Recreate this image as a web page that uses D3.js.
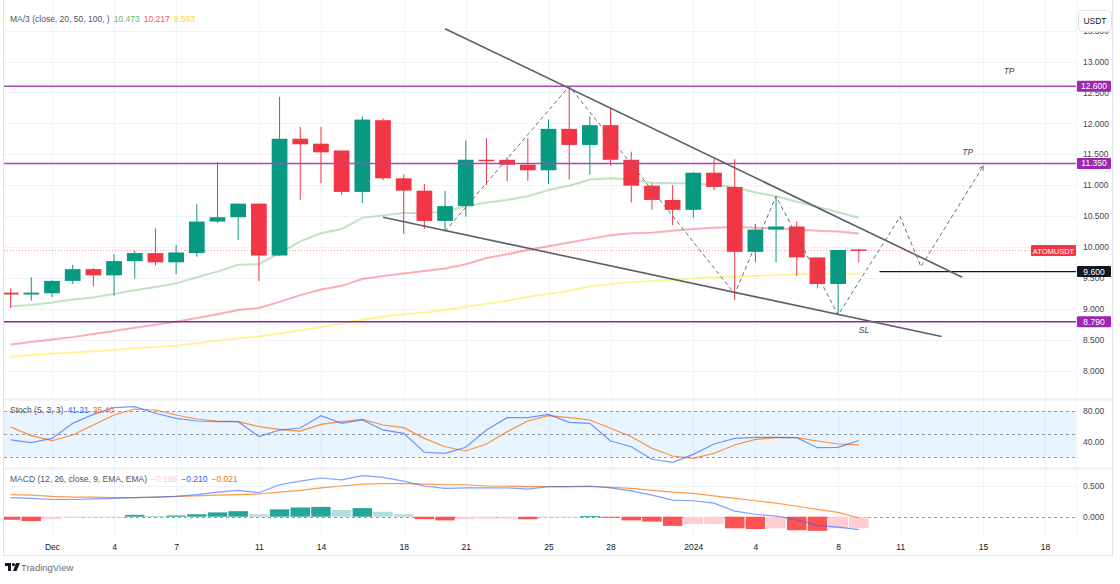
<!DOCTYPE html>
<html><head><meta charset="utf-8">
<script src="https://cdn.jsdelivr.net/npm/d3@7"></script>
<style>
body{margin:0;background:#fff;}
svg{display:block;font-family:"Liberation Sans",Arial,sans-serif;}
</style>
</head><body>
<svg id="c" width="1120" height="584"></svg>
<script>
// ---------------- DATA ----------------
const dates = ["2023-11-29","2023-11-30","2023-12-01","2023-12-02","2023-12-03","2023-12-04","2023-12-05","2023-12-06","2023-12-07","2023-12-08",
"2023-12-09","2023-12-10","2023-12-11","2023-12-12","2023-12-13","2023-12-14","2023-12-15","2023-12-16","2023-12-17","2023-12-18",
"2023-12-19","2023-12-20","2023-12-21","2023-12-22","2023-12-23","2023-12-24","2023-12-25","2023-12-26","2023-12-27","2023-12-28",
"2023-12-29","2023-12-30","2023-12-31","2024-01-01","2024-01-02","2024-01-03","2024-01-04","2024-01-05","2024-01-06","2024-01-07",
"2024-01-08","2024-01-09"];
const open  = [9.26,9.23,9.25,9.45,9.64,9.54,9.77,9.90,9.75,9.90, 10.41,10.48,10.70,9.86,11.75,11.67,11.56,10.89,12.05,11.11, 10.91,10.42,10.66,11.41,11.41,11.33,11.24,11.91,11.65,11.97, 11.41,10.99,10.76,10.60,11.20,10.97,9.92,10.28,10.33,9.83, 9.40,9.96];
const high  = [9.33,9.51,9.46,9.71,9.66,9.88,9.94,10.30,10.03,10.69, 11.37,10.70,10.70,12.43,11.94,11.94,11.56,12.11,12.08,11.17, 11.02,10.91,11.72,11.76,11.45,11.76,12.06,12.60,12.11,12.23, 11.54,11.03,11.00,11.21,11.42,11.42,10.37,10.82,10.41,9.83, 9.95,9.97];
const low   = [9.01,9.13,9.19,9.40,9.36,9.21,9.49,9.70,9.56,9.84, 10.39,10.11,9.45,9.85,10.76,11.03,10.84,10.71,11.08,10.21, 10.29,10.25,10.49,11.00,11.06,11.07,11.02,11.09,11.17,11.31, 10.72,10.60,10.35,10.47,10.92,9.14,9.75,9.75,9.53,9.33, 8.90,9.75];
const close = [9.23,9.26,9.45,9.64,9.54,9.77,9.90,9.75,9.91,10.41, 10.48,10.70,9.86,11.75,11.66,11.53,10.89,12.06,11.11,10.91, 10.42,10.66,11.41,11.39,11.33,11.24,11.91,11.65,11.97,11.41, 10.99,10.76,10.60,11.20,10.97,9.92,10.28,10.33,9.83,9.40, 9.95,9.94];

const ma20  = [9.04,9.06,9.10,9.15,9.18,9.24,9.30,9.35,9.41,9.51, 9.60,9.71,9.72,9.90,10.09,10.22,10.29,10.47,10.51,10.55, 10.55,10.57,10.66,10.72,10.76,10.82,10.92,10.99,11.09,11.11, 11.09,11.04,11.03,11.03,11.00,10.97,10.88,10.82,10.73,10.65, 10.56,10.473];
const ma50  = [8.42,8.46,8.50,8.54,8.59,8.64,8.69,8.74,8.79,8.85, 8.91,8.98,9.01,9.11,9.22,9.31,9.37,9.48,9.53,9.57, 9.61,9.65,9.72,9.82,9.88,9.95,10.01,10.07,10.13,10.19, 10.22,10.23,10.26,10.29,10.31,10.32,10.31,10.30,10.28,10.26, 10.25,10.217];
const ma100 = [8.22,8.25,8.27,8.29,8.31,8.33,8.36,8.38,8.40,8.44, 8.48,8.52,8.55,8.60,8.65,8.70,8.76,8.82,8.87,8.91, 8.94,8.98,9.03,9.08,9.13,9.19,9.24,9.29,9.36,9.40, 9.43,9.45,9.47,9.49,9.51,9.52,9.53,9.54,9.56,9.56, 9.57,9.563];

const stochK = [42,38.4,44,63.8,75.6,84.4,85.7,77,70.4,66.9, 66,66,46.3,55,57.7,73.8,63.8,68.2,55.1,50.7, 25.8,24.5,32.3,55.1,71.2,71.2,75.6,65.1,63.8,40.6, 33.1,16.6,12.6,23.1,36.7,44.1,45.5,45.5,45.0,31.8, 32.3,41.21];
const stochD = [59,47.6,41,48.5,61.6,74.7,82.6,81.3,74.7,69.5, 66.9,66,59.4,56,53.7,62.5,66,69.1,61.6,58.1, 44.1,33.1,27.5,36.7,52.8,66.9,73.8,71.2,68.2,57.3, 46.3,31.0,20.9,17.9,24.5,35.4,42.8,45.0,45.0,40.6, 36.7,35.40];

const macdLine = [0.31,0.30,0.28,0.28,0.29,0.30,0.31,0.32,0.33,0.36, 0.40,0.43,0.39,0.52,0.58,0.63,0.60,0.67,0.64,0.58, 0.50,0.46,0.47,0.47,0.47,0.45,0.49,0.49,0.50,0.47, 0.42,0.35,0.27,0.26,0.22,0.09,0.04,0.01,-0.05,-0.14, -0.17,-0.210];
const signalLine = [0.36,0.35,0.33,0.32,0.32,0.31,0.31,0.32,0.33,0.34, 0.35,0.36,0.37,0.40,0.43,0.47,0.50,0.53,0.54,0.54, 0.53,0.52,0.52,0.50,0.50,0.49,0.49,0.49,0.49,0.48, 0.46,0.43,0.40,0.38,0.34,0.30,0.26,0.22,0.17,0.12, 0.07,-0.021];
const histogram = [-0.05,-0.07,-0.04,-0.02,-0.01,-0.01,0.03,0.01,0.02,0.04, 0.07,0.09,0.04,0.12,0.15,0.16,0.11,0.14,0.08,0.04, -0.04,-0.06,-0.04,-0.03,-0.03,-0.04,-0.01,-0.01,0.01,-0.01, -0.06,-0.08,-0.15,-0.12,-0.12,-0.19,-0.20,-0.19,-0.22,-0.23, -0.19,-0.188];

const xTickDates  = ["2023-12-01","2023-12-04","2023-12-07","2023-12-11","2023-12-14","2023-12-18","2023-12-21","2023-12-25","2023-12-28","2024-01-01","2024-01-04","2024-01-08","2024-01-11","2024-01-15","2024-01-18"];
const xTickLabels = ["Dec","4","7","11","14","18","21","25","28","2024","4","8","11","15","18"];
const priceTicks  = [8.0,8.5,9.0,9.5,10.0,10.5,11.0,11.5,12.0,12.5,13.0,13.5];
const stochTicks  = [80,40];
const stochBands  = [80,50,20];
const macdTicks   = [0.5,0.0];

const levelPrices = [12.60, 11.35, 8.79];
const entryLevel  = {from:"2024-01-10", price:9.60};
const lastPrice   = 9.94;
const upperTrend  = [{d:"2023-12-20",p:13.53},{d:"2024-01-14",p:9.51}];
const lowerTrend  = [{d:"2023-12-17",p:10.48},{d:"2024-01-13",p:8.55}];
const projPath    = [{d:"2023-12-20",p:10.25},{d:"2023-12-26",p:12.60},{d:"2024-01-03",p:9.24},{d:"2024-01-05",p:10.82},{d:"2024-01-08",p:8.90},{d:"2024-01-11",p:10.49},{d:"2024-01-12",p:9.68},{d:"2024-01-15",p:11.30}];
const notes       = [{d:"2024-01-16",p:12.80,t:"TP"},{d:"2024-01-14",p:11.49,t:"TP"},{d:"2024-01-09",p:8.60,t:"SL"}];
const symbol = "ATOMUSDT";

// ---------------- LAYOUT ----------------
const parse = d3.utcParse("%Y-%m-%d");
const W = 1120;
const L = 4, R = 1076, AX = 1113;
const main = {top:0, bot:399}, st = {top:400, bot:468}, mc = {top:469, bot:536};

const x = d3.scaleUtc().domain([parse("2023-12-01"), parse("2024-01-18")]).range([52, 1045]);
const dayW = x(parse("2023-12-02")) - x(parse("2023-12-01"));
const y = d3.scaleLinear().domain([8, 13]).range([370.5, 61.5]);
const ys = d3.scaleLinear().domain([20, 80]).range([456.7, 411]);
const ym = d3.scaleLinear().domain([0, 0.5]).range([516.7, 486]);

const UP = "#089981", DN = "#f23645";
const svg = d3.select("#c");
svg.append("rect").attr("width",W).attr("height",584).attr("fill","#fff");

const defs = svg.append("defs");
[["cMain",main],["cSt",st],["cMc",mc]].forEach(([id,p])=>{
  defs.append("clipPath").attr("id",id).append("rect").attr("x",L).attr("y",p.top).attr("width",R-L).attr("height",p.bot-p.top);
});
defs.append("marker").attr("id","arr").attr("viewBox","0 0 10 10").attr("refX",6).attr("refY",5)
  .attr("markerWidth",6).attr("markerHeight",6).attr("orient","auto")
  .append("path").attr("d","M0,1 L7,5 L0,9").attr("fill","none").attr("stroke","#6a6d78").attr("stroke-width",1.3);

const D = dates.map(parse);
const N = D.length;

// ---------------- GRID ----------------
const grid = svg.append("g");
xTickDates.forEach(s=>{
  const xx = Math.round(x(parse(s)))+0.5;
  grid.append("line").attr("x1",xx).attr("x2",xx).attr("y1",0).attr("y2",mc.bot).attr("stroke","#f0f3fa");
});
priceTicks.forEach(v=>{
  const yy = Math.round(y(v))+0.5;
  grid.append("line").attr("x1",L).attr("x2",R).attr("y1",yy).attr("y2",yy).attr("stroke","#f0f3fa");
});
grid.append("line").attr("x1",L).attr("x2",R).attr("y1",Math.round(ym(0.5))+0.5).attr("y2",Math.round(ym(0.5))+0.5).attr("stroke","#f0f3fa");

// ---------------- MAIN PANEL ----------------
const gm = svg.append("g").attr("clip-path","url(#cMain)");
const line = (arr, sc) => d3.line().x((d,i)=>x(D[i])).y(d=>sc(d))(arr);

// last price dotted
gm.append("line").attr("x1",L).attr("x2",R).attr("y1",y(lastPrice)).attr("y2",y(lastPrice))
  .attr("stroke",DN).attr("stroke-opacity",0.55).attr("stroke-dasharray","1,2");

// MAs
[[ma100,"#ffeb3b",0.55],[ma50,"#f23645",0.4],[ma20,"#4caf50",0.35]].forEach(([arr,c,o])=>{
  gm.append("path").attr("d",line(arr,y)).attr("fill","none").attr("stroke",c).attr("stroke-opacity",o).attr("stroke-width",2);
});

// candles
const bw = dayW*0.76;
for(let i=0;i<N;i++){
  const c = close[i]>=open[i] ? UP : DN;
  const cx = x(D[i]);
  gm.append("line").attr("x1",cx).attr("x2",cx).attr("y1",y(high[i])).attr("y2",y(low[i])).attr("stroke",c).attr("stroke-width",1);
  const t = y(Math.max(open[i],close[i])), b = y(Math.min(open[i],close[i]));
  gm.append("rect").attr("x",cx-bw/2).attr("y",t).attr("width",bw).attr("height",Math.max(1.5,b-t)).attr("fill",c);
}

// horizontal levels
const lvlColor = ["#ab47bc","#ab47bc","#8e24aa"];
levelPrices.forEach((p,i)=>{
  gm.append("line").attr("x1",L).attr("x2",R).attr("y1",y(p)).attr("y2",y(p)).attr("stroke",lvlColor[i]).attr("stroke-width",1.6);
});
gm.append("line").attr("x1",x(parse(entryLevel.from))).attr("x2",R).attr("y1",y(entryLevel.price)).attr("y2",y(entryLevel.price))
  .attr("stroke","#131722").attr("stroke-width",1.4);

// trend lines
[upperTrend, lowerTrend].forEach(tl=>{
  gm.append("line").attr("x1",x(parse(tl[0].d))).attr("y1",y(tl[0].p)).attr("x2",x(parse(tl[1].d))).attr("y2",y(tl[1].p))
    .attr("stroke","#5d606b").attr("stroke-width",1.6);
});
// projection path
gm.append("path").attr("d",d3.line().x(d=>x(parse(d.d))).y(d=>y(d.p))(projPath))
  .attr("fill","none").attr("stroke","#6a6d78").attr("stroke-width",1).attr("stroke-dasharray","4,3").attr("marker-end","url(#arr)");
// notes
notes.forEach(n=>{
  gm.append("text").attr("x",x(parse(n.d))).attr("y",y(n.p)).attr("font-size",8.5).attr("font-style","italic").attr("fill","#434651").text(n.t);
});

// ---------------- STOCH ----------------
const gs = svg.append("g").attr("clip-path","url(#cSt)");
gs.append("rect").attr("x",L).attr("width",R-L).attr("y",ys(80)).attr("height",ys(20)-ys(80)).attr("fill","rgba(33,150,243,0.1)");
stochBands.forEach(v=>{
  gs.append("line").attr("x1",L).attr("x2",R).attr("y1",Math.round(ys(v))+0.5).attr("y2",Math.round(ys(v))+0.5)
    .attr("stroke","#9598a1").attr("stroke-dasharray","3,3");
});
gs.append("path").attr("d",line(stochD,ys)).attr("fill","none").attr("stroke","#ff6d00").attr("stroke-opacity",0.75).attr("stroke-width",1.2);
gs.append("path").attr("d",line(stochK,ys)).attr("fill","none").attr("stroke","#2962ff").attr("stroke-opacity",0.65).attr("stroke-width",1.2);

// ---------------- MACD ----------------
const gc = svg.append("g").attr("clip-path","url(#cMc)");
gc.append("line").attr("x1",L).attr("x2",R).attr("y1",Math.round(ym(0))+0.5).attr("y2",Math.round(ym(0))+0.5)
  .attr("stroke","#9598a1").attr("stroke-dasharray","3,3");
for(let i=0;i<N;i++){
  const h = histogram[i], prev = i>0 ? histogram[i-1] : h;
  let col;
  if(h>=0) col = (i===0 || h>prev) ? "#26a69a" : "#b2dfdb";
  else col = (i===0 || h<prev) ? "#ff5252" : "#ffcdd2";
  const cx = x(D[i]);
  const y0 = ym(0), y1 = ym(h);
  gc.append("rect").attr("x",cx-dayW/2+0.6).attr("width",dayW-1.2).attr("y",Math.min(y0,y1)).attr("height",Math.max(1,Math.abs(y1-y0))).attr("fill",col);
}
gc.append("path").attr("d",line(signalLine,ym)).attr("fill","none").attr("stroke","#ff6d00").attr("stroke-opacity",0.7).attr("stroke-width",1.2);
gc.append("path").attr("d",line(macdLine,ym)).attr("fill","none").attr("stroke","#2962ff").attr("stroke-opacity",0.6).attr("stroke-width",1.2);

// ---------------- FRAME ----------------
const fr = svg.append("g").attr("stroke","#e0e3eb").attr("fill","none");
fr.append("line").attr("x1",3.5).attr("x2",3.5).attr("y1",0).attr("y2",556);
fr.append("line").attr("x1",AX-0.5).attr("x2",AX-0.5).attr("y1",0).attr("y2",556);
fr.append("line").attr("x1",3.5).attr("x2",AX).attr("y1",555.5).attr("y2",555.5);
fr.append("line").attr("x1",R+0.5).attr("x2",R+0.5).attr("y1",0).attr("y2",mc.bot).attr("stroke","#f0f3fa");
[main.bot+0.5, st.bot+0.5].forEach(yy=>{
  fr.append("line").attr("x1",4).attr("x2",AX).attr("y1",yy).attr("y2",yy).attr("stroke-width",2).attr("stroke","#eceef2");
});

// ---------------- AXES ----------------
const axTxt = "#434651";
const pa = svg.append("g").attr("transform",`translate(${R},0)`)
  .call(d3.axisRight(y).tickValues(priceTicks).tickFormat(d3.format(".3f")).tickSize(0).tickPadding(7));
pa.select(".domain").remove();
pa.selectAll("text").attr("font-size",8.5).attr("fill",axTxt).attr("font-family","Liberation Sans, Arial, sans-serif");

const sa = svg.append("g").attr("transform",`translate(${R},0)`)
  .call(d3.axisRight(ys).tickValues(stochTicks).tickFormat(d3.format(".2f")).tickSize(0).tickPadding(7));
sa.select(".domain").remove();
sa.selectAll("text").attr("font-size",8.5).attr("fill",axTxt).attr("font-family","Liberation Sans, Arial, sans-serif");

const ma = svg.append("g").attr("transform",`translate(${R},0)`)
  .call(d3.axisRight(ym).tickValues(macdTicks).tickFormat(d3.format(".3f")).tickSize(0).tickPadding(7));
ma.select(".domain").remove();
ma.selectAll("text").attr("font-size",8.5).attr("fill",axTxt).attr("font-family","Liberation Sans, Arial, sans-serif");

const xa = svg.append("g").attr("transform",`translate(0,${mc.bot})`)
  .call(d3.axisBottom(x).tickValues(xTickDates.map(parse)).tickFormat((d,i)=>xTickLabels[i]).tickSize(0).tickPadding(8));
xa.select(".domain").remove();
xa.selectAll("text").attr("font-size",8.5).attr("fill","#131722").attr("font-family","Liberation Sans, Arial, sans-serif");

// price tags
function tag(yy, txt, bg, x0, w, fs){
  svg.append("rect").attr("x",x0).attr("y",yy-5.5).attr("width",w).attr("height",11).attr("rx",1).attr("fill",bg);
  svg.append("text").attr("x",x0+w/2).attr("y",yy+3).attr("text-anchor","middle").attr("font-size",fs).attr("fill","#fff").text(txt);
}
levelPrices.forEach(p=> tag(y(p), d3.format(".3f")(p), "#9c27b0", R+1, 34, 8.5));
tag(y(entryLevel.price), d3.format(".3f")(entryLevel.price), "#131722", R+1, 34, 8.5);
tag(y(lastPrice), symbol, DN, 1031, 45, 7.5);

// USDT button
svg.append("rect").attr("x",1078.5).attr("y",10.5).attr("width",33).attr("height",21).attr("rx",4).attr("fill","#fff").attr("stroke","#e0e3eb");
svg.append("text").attr("x",1095).attr("y",24).attr("text-anchor","middle").attr("font-size",8.5).attr("fill","#131722").text("USDT");

// ---------------- LEGENDS ----------------
function legend(yy, parts){
  const t = svg.append("text").attr("x",10).attr("y",yy).attr("font-size",8.5);
  parts.forEach(([s,c],i)=>{ t.append("tspan").attr("fill",c).attr("dx", i? 4:0).text(s); });
}
legend(22, [["MA/3 (close, 20, 50, 100, )","#50535e"],[ma20[N-1].toFixed(3),"#66bb6a"],[ma50[N-1].toFixed(3),"#f7525f"],[ma100[N-1].toFixed(3),"#fdd835"]]);
legend(413, [["Stoch (5, 3, 3)","#50535e"],[stochK[N-1].toFixed(2),"#2962ff"],[stochD[N-1].toFixed(2),"#ff6d00"]]);
legend(482, [["MACD (12, 26, close, 9, EMA, EMA)","#50535e"],[histogram[N-1].toFixed(3).replace("-","\u2212"),"#ffcdd2"],[macdLine[N-1].toFixed(3).replace("-","\u2212"),"#2962ff"],[signalLine[N-1].toFixed(3).replace("-","\u2212"),"#ff6d00"]]);

// ---------------- LOGO ----------------
const lg = svg.append("g").attr("transform","translate(5,563)");
lg.append("path").attr("d","M0,0 H6 V8 H3 V3 H0 Z").attr("fill","#131722");
lg.append("circle").attr("cx",8.5).attr("cy",1.6).attr("r",1.6).attr("fill","#131722");
lg.append("path").attr("d","M11,0 H15 L11.5,8 H8 Z").attr("fill","#131722");
svg.append("text").attr("x",21).attr("y",571).attr("font-size",9.5).attr("fill","#6a6d78").text("TradingView");
</script>
</body></html>
